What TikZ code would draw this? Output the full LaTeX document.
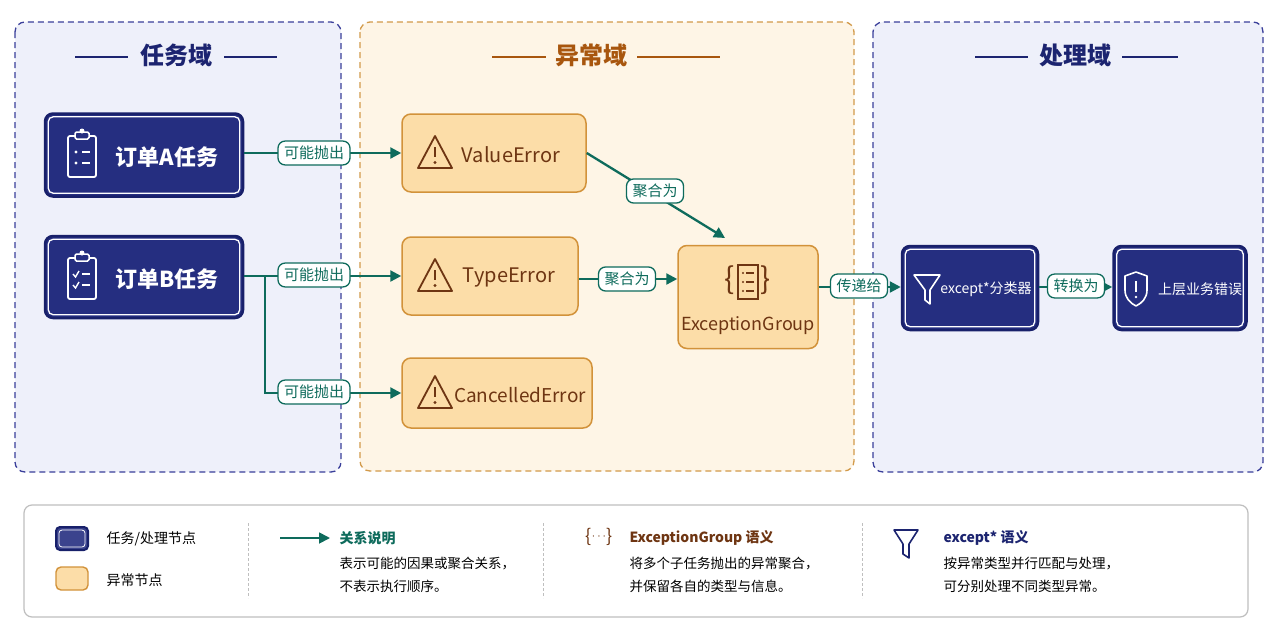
\documentclass[tikz,border=0pt]{standalone}
\usepackage{fontspec}
\setmainfont{Noto Sans CJK SC}
\usetikzlibrary{arrows.meta}
\definecolor{navy}{HTML}{252E80}
\definecolor{navyd}{HTML}{18206A}
\definecolor{orf}{HTML}{FCDDA8}
\definecolor{orb}{HTML}{D2923A}
\definecolor{brn}{HTML}{6E3512}
\definecolor{grn}{HTML}{0E6B5C}
\definecolor{bgb}{HTML}{EEF0FA}
\definecolor{bgo}{HTML}{FEF5E6}
\definecolor{dsb}{HTML}{3A3F9A}
\definecolor{dso}{HTML}{D29A4A}
\definecolor{ttl}{HTML}{1C2470}
\definecolor{ttlo}{HTML}{A8560E}
\begin{document}
\begin{tikzpicture}[x=1pt,y=-1pt,
 panel/.style={rounded corners=10pt,dash pattern=on 6pt off 4pt,line width=1.3pt},
 tnode/.style={draw=navyd,fill=navy,line width=2.5pt,rounded corners=8pt,minimum height=#1},
 inner/.style={white,line width=1.3pt,rounded corners=5pt},
 enode/.style={draw=orb,fill=orf,line width=1.5pt,rounded corners=9pt},
 lab/.style={draw=grn,fill=white,line width=1.3pt,rounded corners=7pt,text=grn,font=\fontsize{15}{17}\selectfont,inner xsep=6pt,inner ysep=5pt},
 arr/.style={grn,line width=2.3pt,-{Triangle[length=11pt,width=11pt]}},
 ln/.style={grn,line width=2.3pt},
 title/.style={font=\fontsize{24}{28}\selectfont\bfseries},
 lg/.style={font=\fontsize{14}{18}\selectfont,anchor=west,align=left},
]
\useasboundingbox[fill=white] (0,0) rectangle (1280,640);
% panels
\draw[panel,draw=dsb,fill=bgb] (15,22) rectangle (341,472);
\draw[panel,draw=dso,fill=bgo] (360,22) rectangle (854,471);
\draw[panel,draw=dsb,fill=bgb] (873,22) rectangle (1263,472);
\node[title,text=ttl] (t1) at (176,55) {任务域};
\draw[ttl,line width=1.2pt] (75,57)--(128,57) (224,57)--(277,57);
\node[title,text=ttlo] (t2) at (591,55) {异常域};
\draw[ttlo,line width=1.2pt] (492,57)--(546,57) (637,57)--(720,57);
\node[title,text=ttl] (t3) at (1075,55) {处理域};
\draw[ttl,line width=1.2pt] (975,57)--(1028,57) (1122,57)--(1178,57);
% task nodes
\node[tnode=83pt,minimum width=198pt] (A) at (144,155) {};
\node[tnode=82pt,minimum width=198pt] (B) at (144,277) {};
\node[font=\fontsize{22}{24}\selectfont\bfseries,text=white] (At) at (167,157) {订单A任务};
\node[font=\fontsize{22}{24}\selectfont\bfseries,text=white] (Bt) at (167,279) {订单B任务};
% clipboard icons
\foreach \cy/\ck in {155/0,277/1}{
 \draw[white,line width=1.8pt,rounded corners=2pt] (68,\cy-19) rectangle (96,\cy+22);
 \draw[white,fill=navy,line width=1.5pt,rounded corners=1.5pt] (75,\cy-23) rectangle (89,\cy-16);
 \fill[white] (82,\cy-24) circle (2.5pt);
 \ifnum\ck=0
  \fill[white] (76,\cy-3) circle (1.6pt) (76,\cy+8) circle (1.6pt);
 \else
  \draw[white,line width=1.4pt] (73,\cy-3)--(75.5,\cy)--(79,\cy-6) (73,\cy+8)--(75.5,\cy+11)--(79,\cy+5);
 \fi
 \draw[white,line width=1.6pt] (82,\cy-3)--(90,\cy-3) (82,\cy+8)--(90,\cy+8);
}
% error nodes
\node[enode,minimum width=184pt,minimum height=78pt] (VE) at (494,153) {};
\node[enode,minimum width=176pt,minimum height=78pt] (TE) at (490,276) {};
\node[enode,minimum width=190pt,minimum height=70pt] (CE) at (497,393) {};
\node[text=brn,font=\fontsize{20}{24}\selectfont] (VEt) at (511,155) {ValueError};
\node[text=brn,font=\fontsize{20}{24}\selectfont] (TEt) at (509,278) {TypeError};
\node[text=brn,font=\fontsize{19}{24}\selectfont] (CEt) at (520,395) {CancelledError};
\foreach \cx/\cy in {435/153,435/276,435/393}{
 \draw[brn,line width=1.8pt,line join=round] (\cx,\cy-17)--(\cx+17,\cy+15)--(\cx-17,\cy+15)--cycle;
 \draw[brn,line width=2pt] (\cx,\cy-6)--(\cx,\cy+4);
 \fill[brn] (\cx,\cy+9.5) circle (1.6pt);
}
\node[enode,minimum width=140pt,minimum height=103pt] (EG) at (748,297) {};
\node[text=brn,font=\fontsize{18}{22}\selectfont] (EGt) at (748,326) {ExceptionGroup};
\node[text=brn,font=\fontsize{30}{32}\selectfont] (EGb) at (748,280) {\{\hspace{26pt}\}};
\draw[brn,line width=1.5pt] (738,265) rectangle (758,299);
\foreach \yy in {273,282,291}{\fill[brn] (743,\yy) circle (1.2pt); \draw[brn,line width=1.4pt] (746,\yy)--(754,\yy);}
% handler nodes
\node[tnode=84pt,minimum width=136pt] (EX) at (970,288) {};
\node[text=white,font=\fontsize{14}{20}\selectfont] (EXt) at (986,289) {except*分类器};
\draw[white,line width=1.6pt,line join=round] (914,275)--(940,275)--(930,290)--(930,304)--(925,300)--(925,290)--cycle;
\node[tnode=84pt,minimum width=133pt] (UP) at (1180,288) {};
\node[text=white,font=\fontsize{14}{20}\selectfont] (UPt) at (1200,289) {上层业务错误};
\draw[white,line width=1.6pt,line join=round] (1136,272)--(1125,276)--(1125,290) .. controls (1125,298) and (1130,303) .. (1136,306) .. controls (1142,303) and (1147,298) .. (1147,290)--(1147,276)--cycle;
\draw[white,line width=2pt] (1136,281)--(1136,292);
\fill[white] (1136,297) circle (1.3pt);
% inner white borders
\foreach \n in {A,B,EX,UP}{
 \draw[inner] ([shift={(4.5pt,-4.5pt)}]\n.north west) rectangle ([shift={(-4.5pt,4.5pt)}]\n.south east);
}
% connectors
\draw[arr] (A.east|-0,153) -- (VE.west|-0,153);
\node[lab] (l1) at (314,153) {可能抛出};
\coordinate (bj) at (265,276);
\draw[ln] (B.east|-0,276) -- (bj);
\draw[arr] (bj) -- (TE.west|-0,276);
\draw[arr] (bj) |- (CE.west|-0,393);
\node[lab] (l2) at (314,275) {可能抛出};
\node[lab] (l3) at (314,392) {可能抛出};
\draw[arr] (VE.east|-0,153) -- (725,238);
\node[lab] (l4) at (655,191) {聚合为};
\draw[arr] (TE.east|-0,279) -- (EG.west|-0,279);
\node[lab] (l5) at (627,279) {聚合为};
\draw[arr] (EG.east|-0,287) -- (EX.west|-0,287);
\node[lab] (l6) at (859,286) {传递给};
\draw[arr] (EX.east|-0,287) -- (UP.west|-0,287);
\node[lab] (l7) at (1076,286) {转换为};
% legend
\draw[gray!50,line width=1.2pt,rounded corners=8pt,fill=white] (24,505) rectangle (1248,617);
\draw[navyd,fill=navy!90,line width=2pt,rounded corners=4pt] (56,527) rectangle (88,550);
\draw[white,line width=0.8pt,rounded corners=3pt] (59,530) rectangle (85,547);
\node[lg] (lg1) at (103,539) {任务/处理节点};
\draw[orb,fill=orf,line width=1.4pt,rounded corners=5pt] (56,567) rectangle (88,590);
\node[lg] (lg2) at (103,580) {异常节点};
\draw[gray!50,dash pattern=on 3pt off 2pt] (248,523)--(248,598) (543,523)--(543,598) (862,523)--(862,598);
\draw[arr,line width=1.8pt] (280,538)--(330,538);
\node[lg,text=grn,font=\fontsize{14}{18}\selectfont\bfseries] (lg3) at (336,538) {关系说明};
\node[lg,font=\fontsize{13.5}{23}\selectfont] (lg4) at (336,575) {表示可能的因果或聚合关系，\\不表示执行顺序。};
\node[text=brn,font=\fontsize{18}{18}\selectfont] (lg5) at (599,537) {\{\raisebox{3pt}{\scalebox{0.7}{$\cdots$}}\}};
\node[lg,text=brn,font=\fontsize{14}{18}\selectfont\bfseries] (lg6) at (626,538) {ExceptionGroup 语义};
\node[lg,font=\fontsize{13.5}{23}\selectfont] (lg7) at (626,575) {将多个子任务抛出的异常聚合，\\并保留各自的类型与信息。};
\draw[ttl,line width=1.6pt,line join=round] (894,530)--(918,530)--(909,544)--(909,558)--(903,554)--(903,544)--cycle;
\node[lg,text=ttl,font=\fontsize{14}{18}\selectfont\bfseries] (lg8) at (940,538) {except* 语义};
\node[lg,font=\fontsize{13.5}{23}\selectfont] (lg9) at (940,575) {按异常类型并行匹配与处理，\\可分别处理不同类型异常。};
\end{tikzpicture}
\end{document}
